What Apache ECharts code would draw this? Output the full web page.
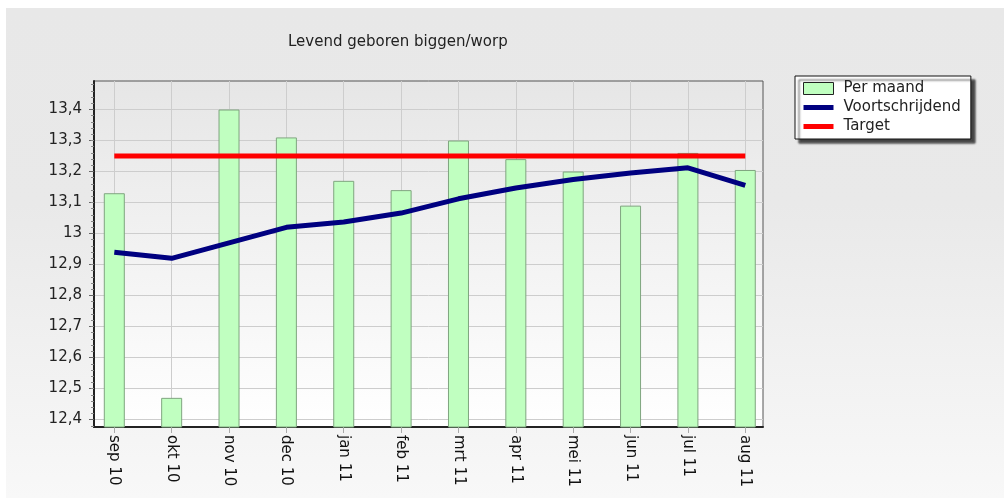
<!DOCTYPE html>
<html>
<head>
    <meta charset="utf-8">
    <title>Levend geboren biggen/worp</title>
    <script src="https://cdn.jsdelivr.net/npm/echarts@6/dist/echarts.min.js"></script>
    <style>
        body {
            margin: 0;
            background: #fff;
        }

        #chart {
            position: absolute;
            left: 6px;
            top: 8px;
            width: 998px;
            height: 490px;
            background: linear-gradient(#e8e8e8, #e9e9e9 40%, #f8f8f8);
        }
    </style>
</head>
<body>
<div id="chart"></div>

<script>
    // maanden
    var categories = ['sep 10', 'okt 10', 'nov 10', 'dec 10', 'jan 11', 'feb 11',
        'mrt 11', 'apr 11', 'mei 11', 'jun 11', 'jul 11', 'aug 11'];

    // levend geboren per maand
    var perMaand = [13.13, 12.47, 13.40, 13.31, 13.17, 13.14, 13.30, 13.24, 13.20, 13.09, 13.26, 13.205];

    // voortschrijdend gemiddelde
    var voortschrijdend = [12.94, 12.92, 12.97, 13.02, 13.037, 13.066, 13.112, 13.147, 13.174, 13.195, 13.212, 13.155];

    // doel
    var target = [13.25, 13.25, 13.25, 13.25, 13.25, 13.25, 13.25, 13.25, 13.25, 13.25, 13.25, 13.25];

    // labels op de y-as
    var yTicks = [12.4, 12.5, 12.6, 12.7, 12.8, 12.9, 13.0, 13.1, 13.2, 13.3, 13.4];

    var xIdx = categories.map(function (c, i) { return i; });

    function pairs(arr) {
        return arr.map(function (v, i) { return [i, v]; });
    }

    var chart = echarts.init(document.getElementById('chart'));

    var font = 'DejaVu Sans, Verdana, sans-serif';

    var option = {
        animation: false,
        backgroundColor: 'transparent',
        title: {
            text: 'Levend geboren biggen/worp',
            left: 277,
            top: 22,
            textStyle: {fontFamily: font, fontSize: 15, fontWeight: 'normal', color: '#222'}
        },
        legend: {
            orient: 'vertical',
            left: 789,
            top: 68,
            padding: [5, 10, 5, 8],
            itemWidth: 30,
            itemHeight: 12,
            itemGap: 4,
            backgroundColor: '#fff',
            borderColor: '#111',
            borderWidth: 1,
            shadowColor: 'rgba(40,40,40,0.85)',
            shadowBlur: 2,
            shadowOffsetX: 4,
            shadowOffsetY: 4,
            textStyle: {fontFamily: font, fontSize: 15, color: '#222', padding: [0, 0, 0, 5]},
            data: [
                {name: 'Per maand', icon: 'rect', itemStyle: {borderColor: '#222', borderWidth: 1}},
                {name: 'Voortschrijdend', icon: 'path://M0,0H30V5H0Z', itemStyle: {borderWidth: 0}},
                {name: 'Target', icon: 'path://M0,0H30V5H0Z', itemStyle: {borderWidth: 0}}
            ]
        },
        grid: {
            left: 88,
            top: 73,
            width: 669,
            height: 346,
            show: true,
            borderColor: '#555',
            borderWidth: 1,
            backgroundColor: new echarts.graphic.LinearGradient(0, 0, 0, 1, [
                {offset: 0, color: '#e6e6e6'},
                {offset: 1, color: '#ffffff'}
            ])
        },
        xAxis: {
            type: 'value',
            min: -0.354,
            max: 11.309,
            axisLine: {onZero: false, lineStyle: {color: '#222', width: 2}},
            axisTick: {customValues: xIdx, length: 6, lineStyle: {color: '#aaa'}},
            axisLabel: {
                customValues: xIdx,
                rotate: -90,
                margin: 8,
                fontFamily: font,
                fontSize: 15,
                color: '#111',
                formatter: function (v) { return categories[Math.round(v)]; }
            },
            splitLine: {show: true, lineStyle: {color: '#cdcdcd', width: 1}}
        },
        yAxis: {
            type: 'value',
            min: 12.376,
            max: 13.492,
            splitNumber: 5,
            axisLine: {show: true, onZero: false, lineStyle: {color: '#222', width: 2}},
            axisTick: {show: true, customValues: yTicks, length: 5, lineStyle: {color: '#666'}},
            minorTick: {show: true, splitNumber: 10, length: 3, lineStyle: {color: '#888'}},
            axisLabel: {
                customValues: yTicks,
                margin: 12,
                fontFamily: font,
                fontSize: 15,
                color: '#222',
                formatter: function (v) { return String(Math.round(v * 10) / 10).replace('.', ','); }
            },
            splitLine: {show: true, lineStyle: {color: '#cdcdcd', width: 1}}
        },
        series: [
            {
                name: 'Per maand',
                type: 'bar',
                barWidth: 21,
                data: pairs(perMaand),
                itemStyle: {color: '#c0ffc0', borderColor: '#7fa57f', borderWidth: 1}
            },
            {
                name: 'Voortschrijdend',
                type: 'line',
                data: pairs(voortschrijdend),
                symbol: 'none',
                itemStyle: {color: '#000080'},
                lineStyle: {color: '#000080', width: 5}
            },
            {
                name: 'Target',
                type: 'line',
                data: pairs(target),
                symbol: 'none',
                itemStyle: {color: '#ff0000'},
                lineStyle: {color: '#ff0000', width: 5}
            }
        ]
    };

    chart.setOption(option);
</script>
</body>
</html>
